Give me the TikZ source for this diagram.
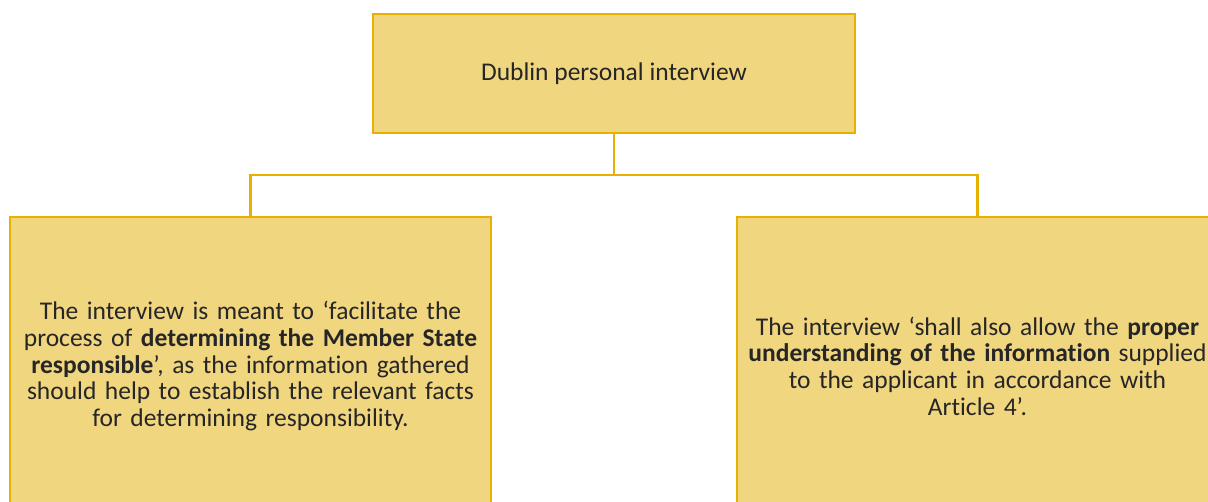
\documentclass[tikz,border=0pt]{standalone}
\usepackage{fontspec}
\setmainfont{Carlito}[Ligatures=NoCommon]
\usepackage{xcolor}
\usetikzlibrary{positioning, calc}

\definecolor{boxfill}{RGB}{241,214,128}
\definecolor{boxline}{RGB}{232,176,0}
\definecolor{boxtext}{RGB}{38,38,38}

\begin{document}
\begin{tikzpicture}[x=1pt, y=-1pt,
    card/.style={draw=boxline, line width=2.2pt, fill=boxfill, text=boxtext, align=center,
        font=\fontsize{25.5}{26.7}\selectfont, inner sep=0pt},
    link/.style={draw=boxline, line width=2.2pt}]
    \useasboundingbox (0,0) rectangle (1208,501);
    \clip (0,0) rectangle (1208,501);
    \node[card, minimum width=482pt, minimum height=119pt] (dublin) at (614, 73.5) {Dublin personal interview};
    \node[card, minimum width=481pt, minimum height=298pt, text width=470pt] (purpose) at (250.5, 366) {The interview is meant to ‘facilitate the\\ process of \textbf{determining the Member State}\\ \textbf{responsible}’, as the information gathered\\ should help to establish the relevant facts\\ for determining responsibility.};
    \node[card, minimum width=481pt, minimum height=298pt, text width=470pt] (understand) at (977.5, 366) {The interview ‘shall also allow the \textbf{proper}\\ \textbf{understanding of the information} supplied\\ to the applicant in accordance with\\ Article 4’.};
    \coordinate (bus) at (614, 175);
    \draw[link] (dublin) -- (bus);
    \foreach \child in {purpose, understand} {
        \draw[link] (bus) -| (\child);
    }
\end{tikzpicture}
\end{document}
